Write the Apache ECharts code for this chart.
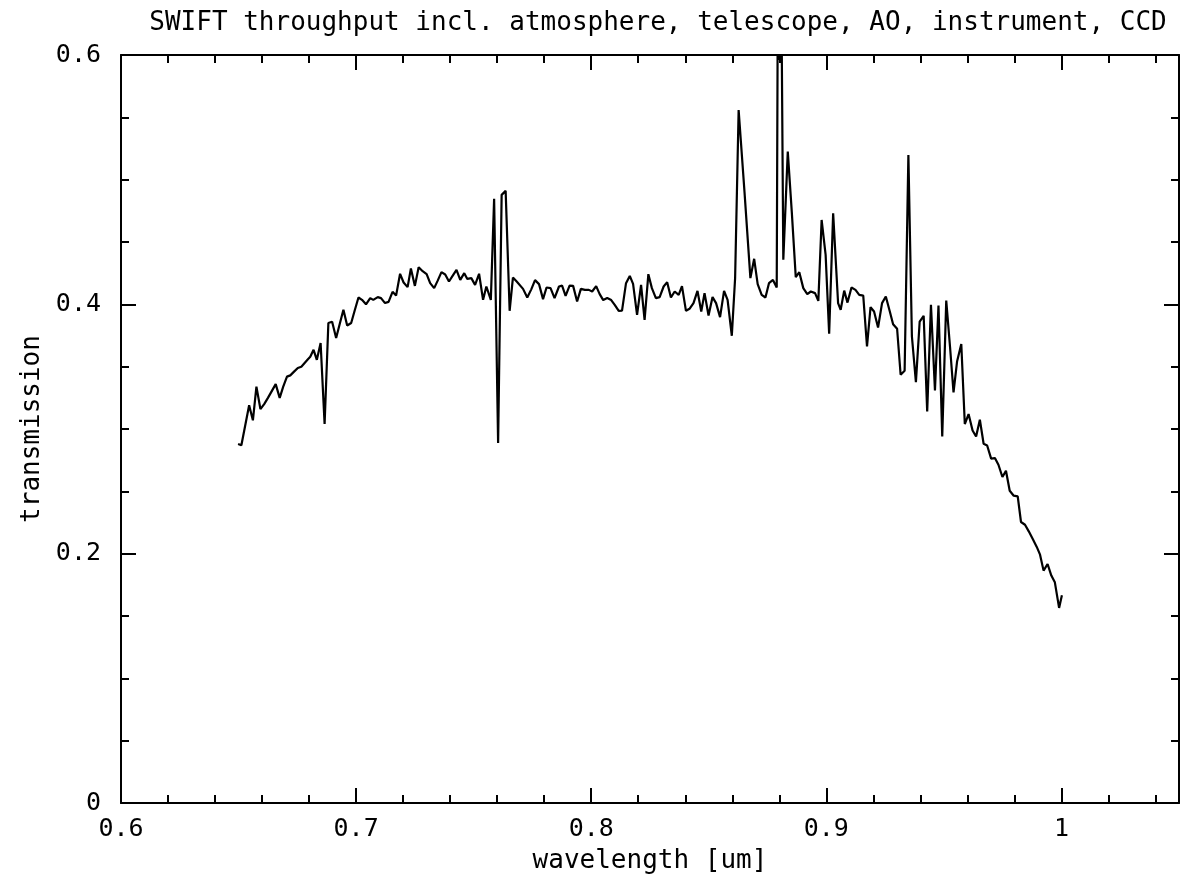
<!DOCTYPE html>
<html>
<head>
<meta charset="utf-8">
<script src="https://cdn.jsdelivr.net/npm/echarts@6/dist/echarts.min.js"></script>
<style>
html,body{margin:0;padding:0;background:#fff;}
#chart{width:1182px;height:883px;}
</style>
</head>
<body>
<div id="chart"></div>
<script>
const titleText = 'SWIFT throughput incl. atmosphere, telescope, AO, instrument, CCD';
const xName = 'wavelength [um]';
const yName = 'transmission';
const xTickValues = [0.6, 0.7, 0.8, 0.9, 1.0];
const xTickLabels = ['0.6', '0.7', '0.8', '0.9', '1'];
const yTickValues = [0, 0.2, 0.4, 0.6];
const yTickLabels = ['0', '0.2', '0.4', '0.6'];

const wavelength = [
0.6498,0.6512,0.6545,0.6561,0.6576,0.6593,0.6609,0.6625,0.6658,0.6675,0.6690,0.6706,0.6720,0.6736,0.6752,0.6767,0.6781,0.6795,0.6805,0.6819,0.6833,0.6849,0.6866,0.6882,0.6898,0.6915,0.6930,0.6946,0.6962,0.6979,0.6994,0.7010,0.7025,0.7042,0.7060,0.7073,0.7092,0.7106,0.7123,0.7138,0.7155,0.7170,0.7187,0.7202,0.7219,0.7233,0.7250,0.7266,0.7283,0.7300,0.7315,0.7332,0.7347,0.7363,0.7379,0.7395,0.7411,0.7427,0.7443,0.7460,0.7473,0.7490,0.7506,0.7523,0.7540,0.7554,0.7573,0.7587,0.7604,0.7619,0.7636,0.7653,0.7667,0.7683,
0.7710,0.7728,0.7745,0.7761,0.7778,0.7795,0.7810,0.7827,0.7844,0.7863,0.7876,0.7891,0.7908,0.7923,0.7940,0.7956,0.7973,0.7990,0.8004,0.8021,0.8036,0.8051,0.8068,0.8085,0.8100,0.8117,0.8131,0.8148,0.8164,0.8178,0.8195,0.8212,0.8227,0.8243,0.8258,0.8275,0.8291,0.8308,0.8323,0.8339,0.8355,0.8372,0.8386,0.8403,0.8418,0.8435,0.8452,0.8468,0.8482,0.8499,0.8516,0.8531,0.8548,0.8565,0.8580,0.8598,0.8612,0.8627,0.8652,0.8677,0.8693,0.8708,0.8725,0.8741,0.8756,0.8773,0.8789,0.8795,0.8800,0.8806,0.8817,0.8836,0.8853,0.8870,0.8885,0.8902,0.8919,0.8934,0.8952,0.8966,0.8980,0.8997,0.9012,0.9029,
0.9050,0.9061,0.9076,0.9090,0.9107,0.9124,0.9140,0.9157,0.9173,0.9188,0.9203,0.9220,0.9237,0.9253,0.9270,0.9284,0.9301,0.9316,0.9333,0.9349,0.9364,0.9381,0.9397,0.9414,0.9429,0.9445,0.9462,0.9477,0.9493,0.9510,0.9526,0.9541,0.9556,0.9574,0.9589,0.9605,0.9622,0.9637,0.9653,0.9669,0.9684,0.9701,0.9717,0.9732,0.9749,0.9764,0.9780,0.9797,0.9814,0.9828,0.9845,0.9861,0.9878,0.9895,0.9909,0.9924,0.9941,0.9957,0.9972,0.9990,1.0002
];
const transmission = [
0.288,0.287,0.319,0.307,0.334,0.316,0.320,0.325,0.336,0.325,0.334,0.342,0.343,0.346,0.349,0.350,0.353,0.356,0.358,0.3635,0.3555,0.369,0.304,0.385,0.386,0.373,0.384,0.3956,0.383,0.385,0.395,0.4055,0.4036,0.400,0.405,0.4036,0.4058,0.405,0.401,0.402,0.410,0.407,0.4245,0.4175,0.4138,0.4287,0.4148,0.4297,0.4266,0.4242,0.417,0.413,0.419,0.4258,0.4239,0.4183,0.423,0.4277,0.4196,0.425,0.4204,0.421,0.4156,0.4245,0.4036,0.4143,0.4036,0.4846,0.2887,0.4878,0.491,0.3948,0.4215,0.4183,
0.4124,0.4055,0.412,0.4194,0.4162,0.4042,0.4135,0.413,0.405,0.4143,0.415,0.4068,0.415,0.4148,0.4023,0.4124,0.4116,0.4116,0.4103,0.4146,0.4082,0.4034,0.405,0.4034,0.3996,0.3948,0.395,0.417,0.4228,0.4164,0.3916,0.4156,0.3876,0.4242,0.413,0.405,0.4058,0.4143,0.4178,0.4055,0.4103,0.4076,0.4146,0.3948,0.3964,0.401,0.4108,0.3942,0.409,0.391,0.4058,0.401,0.3897,0.4108,0.4036,0.3748,0.421,0.5559,0.490,0.421,0.4365,0.4162,0.4076,0.4055,0.417,0.4196,0.4135,0.72,0.596,0.72,0.4357,0.5225,0.4744,0.4218,0.4258,0.413,0.4082,0.4103,0.409,0.4028,0.4677,0.4397,0.3764,0.4731,
0.401,0.3956,0.411,0.4014,0.4135,0.4116,0.4076,0.407,0.3662,0.3977,0.3942,0.3814,0.401,0.4063,0.3942,0.3841,0.3804,0.3435,0.3467,0.5198,0.3742,0.3376,0.3862,0.3908,0.3141,0.3996,0.3309,0.399,0.294,0.403,0.3662,0.3293,0.3541,0.3681,0.304,0.312,0.2988,0.294,0.3074,0.2882,0.2868,0.2762,0.2767,0.2713,0.2615,0.2665,0.2505,0.2465,0.2459,0.2254,0.2232,0.2179,0.2118,0.2054,0.1992,0.1864,0.1917,0.1824,0.177,0.1565,0.1666
];

const FONT = 'DejaVu Sans Mono';
const seriesData = wavelength.map((w, i) => [w, transmission[i]]);

function labelFor(values, labels) {
  return function (v) {
    for (let i = 0; i < values.length; i++) {
      if (Math.abs(v - values[i]) < 1e-6) return labels[i];
    }
    return '';
  };
}

const lineStyleBlack = { color: '#000', width: 2 };
const axisLineCfg = { show: true, onZero: false, lineStyle: lineStyleBlack };

const chart = echarts.init(document.getElementById('chart'), null, { renderer: 'canvas' });
chart.setOption({
  backgroundColor: '#fff',
  animation: false,
  graphic: [{
    type: 'text',
    x: 658, y: 23,
    style: {
      text: titleText,
      fill: '#000',
      font: '26px "' + FONT + '"',
      align: 'center', verticalAlign: 'middle',
      textAlign: 'center', textVerticalAlign: 'middle'
    }
  }],
  grid: { left: 121, right: 2, top: 55, bottom: 80, show: false },
  xAxis: [{
    type: 'value', position: 'bottom', min: 0.6, max: 1.05, interval: 0.1,
    axisLine: axisLineCfg,
    axisTick: { show: true, inside: true, length: 15, lineStyle: lineStyleBlack },
    minorTick: { show: true, splitNumber: 5, length: 8, lineStyle: lineStyleBlack },
    splitLine: { show: false }, minorSplitLine: { show: false },
    axisLabel: { color: '#000', fontSize: 25, fontFamily: FONT, margin: 14,
      formatter: labelFor(xTickValues, xTickLabels) },
    name: xName, nameLocation: 'middle', nameGap: 45,
    nameTextStyle: { color: '#000', fontSize: 26, fontFamily: FONT }
  }, {
    type: 'value', position: 'top', min: 0.6, max: 1.05, interval: 0.1,
    axisLine: axisLineCfg,
    axisTick: { show: true, inside: true, length: 15, lineStyle: lineStyleBlack },
    minorTick: { show: true, splitNumber: 5, length: 8, lineStyle: lineStyleBlack },
    splitLine: { show: false },
    axisLabel: { show: false }
  }],
  yAxis: [{
    type: 'value', position: 'left', min: 0, max: 0.6, interval: 0.2,
    axisLine: axisLineCfg,
    axisTick: { show: true, inside: true, length: 15, lineStyle: lineStyleBlack },
    minorTick: { show: true, splitNumber: 4, length: 8, lineStyle: lineStyleBlack },
    splitLine: { show: false }, minorSplitLine: { show: false },
    axisLabel: { color: '#000', fontSize: 25, fontFamily: FONT, margin: 20,
      formatter: labelFor(yTickValues, yTickLabels) },
    name: yName, nameLocation: 'middle', nameGap: 73, nameRotate: 90,
    nameTextStyle: { color: '#000', fontSize: 26, fontFamily: FONT }
  }, {
    type: 'value', position: 'right', min: 0, max: 0.6, interval: 0.2,
    axisLine: axisLineCfg,
    axisTick: { show: true, inside: true, length: 15, lineStyle: lineStyleBlack },
    minorTick: { show: true, splitNumber: 4, length: 8, lineStyle: lineStyleBlack },
    splitLine: { show: false },
    axisLabel: { show: false }
  }],
  series: [{
    type: 'line',
    xAxisIndex: 0, yAxisIndex: 0,
    data: seriesData,
    showSymbol: false, symbol: 'none',
    clip: true,
    lineStyle: { color: '#000', width: 2.2 },
    silent: true
  }]
});
</script>
</body>
</html>
